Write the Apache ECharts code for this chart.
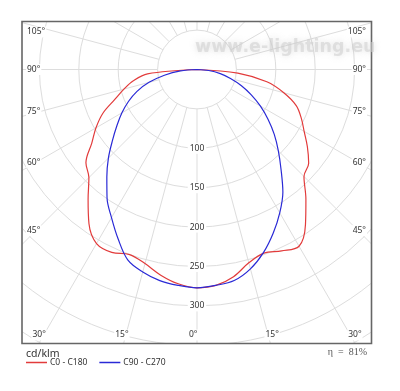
<!DOCTYPE html>
<html><head><meta charset="utf-8">
<script src="https://cdn.jsdelivr.net/npm/echarts@6/dist/echarts.min.js"></script>
<style>html,body{margin:0;padding:0;background:#fff}#c{width:400px;height:391px}</style>
</head><body><div id="c"></div>
<script>
// ---- data (cd/klm), angles measured from nadir (0°) ----
const angles     = [0, 5, 10, 15, 20, 25, 30, 35, 40, 45, 50, 55, 60, 65, 70, 75, 80, 85, 90];
const redLeft    = [277, 273, 265, 255, 250, 256, 255, 239, 215, 194, 184, 163, 148, 132, 111, 96, 82, 63, 0];
const redRight   = [277, 275, 267, 254, 248, 254, 259, 240, 215, 192, 185, 171, 157, 146, 134, 114, 90, 52, 0];
const blueLeft   = [277, 275, 272, 266, 257, 237, 217, 199, 178, 159, 140, 124, 110, 96, 81, 63, 42, 21, 0];
const blueRight  = [277, 275, 272, 262, 247, 229, 210, 190, 166, 146, 128, 110, 93, 76, 60, 44, 30, 15, 0];
const seriesNames = ['C0 - C180', 'C90 - C270'];
const angleTicks  = [0, 15, 30, 45, 60, 75, 90, 105];
const radiusTicks = [100, 150, 200, 250, 300];
const unitLabel   = 'cd/klm';
const effLabel    = 'η  =  81%';
const watermark   = 'www.e-lighting.eu';

// ---- layout ----
const CX = 197, CY = 69.5, SCALE = 0.788, RMAX = 400, RMIN_GRID = 50;
const BOX = {x1: 22, y1: 21.5, x2: 371.5, y2: 343.5};
const RED = '#e23b3b', BLUE = '#2a2ad6', GRID = '#dddddd';
const FONT = 'Noto Sans';

function toPolar(left, right) {
  const pts = [];
  for (let i = angles.length - 1; i >= 0; i--) pts.push([left[i], angles[i]]);
  for (let i = 1; i < angles.length; i++) pts.push([right[i], 360 - angles[i]]);
  return pts;
}

const chart = echarts.init(document.getElementById('c'));
chart.setOption({
  animation: false,
  backgroundColor: '#fff',
  polar: [
    {center: [CX, CY], radius: [RMIN_GRID * SCALE, RMAX * SCALE]},
    {center: [CX, CY], radius: RMAX * SCALE}
  ],
  angleAxis: [
    {polarIndex: 0, type: 'value', min: 0, max: 360, interval: 15, startAngle: 270, clockwise: true,
     axisLine: {show: false}, axisTick: {show: false}, axisLabel: {show: false},
     splitLine: {show: true, lineStyle: {color: GRID, width: 1}}},
    {polarIndex: 1, type: 'value', min: 0, max: 360, startAngle: 270, clockwise: true,
     axisLine: {show: false}, axisTick: {show: false}, axisLabel: {show: false}, splitLine: {show: false}}
  ],
  radiusAxis: [
    {polarIndex: 0, type: 'value', min: RMIN_GRID, max: RMAX, interval: 50,
     axisLine: {show: false}, axisTick: {show: false}, axisLabel: {show: false},
     splitLine: {show: true, lineStyle: {color: GRID, width: 1}}},
    {polarIndex: 1, type: 'value', min: 0, max: RMAX,
     axisLine: {show: false}, axisTick: {show: false}, axisLabel: {show: false}, splitLine: {show: false}}
  ],
  legend: {
    z: 60, left: 26, top: 358, itemWidth: 21, itemHeight: 1.5, itemGap: 12, padding: 0, icon: 'rect',
    textStyle: {fontFamily: FONT, fontSize: 8.5, color: '#333', padding: [0, 0, 0, -2]},
    data: seriesNames
  },
  series: [
    {name: seriesNames[0], type: 'line', coordinateSystem: 'polar', polarIndex: 1,
     data: toPolar(redLeft, redRight), symbol: 'none', smooth: 0.35, z: 3,
     lineStyle: {color: RED, width: 1.2}, itemStyle: {color: RED}},
    {name: seriesNames[1], type: 'line', coordinateSystem: 'polar', polarIndex: 1,
     data: toPolar(blueLeft, blueRight), symbol: 'none', smooth: 0.35, z: 3,
     lineStyle: {color: BLUE, width: 1.2}, itemStyle: {color: BLUE}}
  ]
});

// ---- overlay graphics (clip box, border, labels) ----
const g = [];
const W = 400, H = 391;
g.push({type: 'rect', z: 50, silent: true, shape: {x: 0, y: 0, width: W, height: BOX.y1}, style: {fill: '#fff'}});
g.push({type: 'rect', z: 50, silent: true, shape: {x: 0, y: BOX.y2, width: W, height: H - BOX.y2}, style: {fill: '#fff'}});
g.push({type: 'rect', z: 50, silent: true, shape: {x: 0, y: 0, width: BOX.x1, height: H}, style: {fill: '#fff'}});
g.push({type: 'rect', z: 50, silent: true, shape: {x: BOX.x2, y: 0, width: W - BOX.x2, height: H}, style: {fill: '#fff'}});
g.push({type: 'rect', z: 51, silent: true, shape: {x: BOX.x1, y: BOX.y1, width: BOX.x2 - BOX.x1, height: BOX.y2 - BOX.y1},
        style: {fill: 'none', stroke: '#666', lineWidth: 1.6}});

// radius labels on the nadir line
radiusTicks.forEach(r => {
  const p = chart.convertToPixel({seriesIndex: 0}, [r, 0]);
  g.push({type: 'text', z: 52, silent: true, x: p[0], y: p[1],
    style: {text: String(r), fontFamily: FONT, fontSize: 8.5, fill: '#333', align: 'center', verticalAlign: 'middle',
            backgroundColor: '#fff', padding: [1, 2]}});
});

// angle labels around the frame
const INL = 33, INR = 361, INB = 335, INT = 32;
function anglePos(a, side) {
  const d = a === 90 ? 0 : 0.5;
  const v = side < 0 ? a + d : 360 - (a + d);
  const o = chart.convertToPixel({seriesIndex: 0}, [0, v]);
  const q = chart.convertToPixel({seriesIndex: 0}, [100, v]);
  const dx = q[0] - o[0], dy = q[1] - o[1];
  let t = Math.abs((side < 0 ? INL : INR) - o[0]) / Math.abs(dx || 1e-9);
  let wall = true;
  if (dy > 0) { const tb = (INB - o[1]) / dy; if (tb < t) { t = tb; wall = false; } }
  let x = o[0] + dx * t, y = Math.max(INT, o[1] + dy * t);
  if (!wall) x += side * 1.5;
  return {x, y, wall};
}
angleTicks.forEach(a => {
  [-1, 1].forEach(side => {
    if (a === 0 && side > 0) return;
    const p = anglePos(a, side);
    let x = p.x, align = 'center';
    if (p.wall) { x = side < 0 ? 26 : 367; align = side < 0 ? 'left' : 'right'; }
    g.push({type: 'text', z: 52, silent: true, x: x, y: p.y,
      style: {text: a + '°', fontFamily: FONT, fontSize: 8.5, fill: '#333', align: align, verticalAlign: 'middle',
              backgroundColor: '#fff', padding: [1, 1]}});
  });
});

// unit label, efficiency, watermark
g.push({type: 'text', z: 52, silent: true, x: 26, y: 354,
  style: {text: unitLabel, fontFamily: FONT, fontSize: 10.5, fill: '#333', verticalAlign: 'middle'}});
g.push({type: 'text', z: 52, silent: true, x: 367, y: 352,
  style: {text: effLabel, fontFamily: 'Liberation Serif', fontSize: 10, fill: '#555', align: 'right', verticalAlign: 'middle'}});
g.push({type: 'text', z: 53, silent: true, x: 195, y: 47,
  style: {text: watermark, fontFamily: 'DejaVu Sans', fontWeight: 'bold', fontSize: 17.5, fill: 'rgba(205,205,205,0.55)',
          verticalAlign: 'middle', textShadowColor: 'rgba(190,190,190,0.8)', textShadowBlur: 6}});

chart.setOption({graphic: {elements: g}});
</script>
</body></html>
